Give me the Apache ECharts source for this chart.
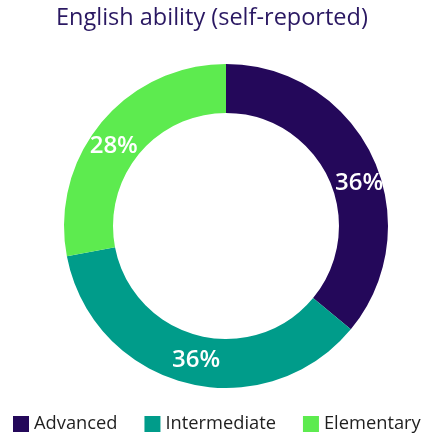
<!DOCTYPE html>
<html>
<head>
<meta charset="utf-8">
<script src="https://cdn.jsdelivr.net/npm/echarts@6/dist/echarts.min.js"></script>
<style>
  html, body { margin: 0; padding: 0; background: #ffffff; }
  #chart { width: 423px; height: 438px; }
</style>
</head>
<body>
<div id="chart"></div>
<script>
// English ability levels, self-reported share (%)
const levels = ['Advanced', 'Intermediate', 'Elementary'];
const shares = [36, 36, 28];
const colors = ['#24085a', '#009c8a', '#5deb4f'];

// small nudges so the percentage labels sit where they read best in the ring
const labelNudge = [[6, 17], [5, -2], [-4, 10]];

const chart = echarts.init(document.getElementById('chart'), null, { renderer: 'canvas' });

chart.setOption({
  animation: false,
  color: colors,
  title: {
    text: 'English ability (self-reported)',
    left: 56,
    top: 6,
    padding: 0,
    textStyle: {
      fontFamily: 'Open Sans',
      fontSize: 23.5,
      fontWeight: 'normal',
      color: '#2a1862'
    }
  },
  legend: {
    data: levels,
    top: 415,
    left: 13,
    width: 420,
    padding: 0,
    itemWidth: 16,
    itemHeight: 16,
    itemGap: 27,
    icon: 'rect',
    textStyle: {
      fontFamily: 'Open Sans',
      fontSize: 18.3,
      color: '#1f1f1f'
    }
  },
  series: [{
    type: 'pie',
    center: [226, 226],
    radius: [113, 162],
    startAngle: 90,
    clockwise: true,
    avoidLabelOverlap: false,
    label: {
      show: true,
      position: 'inside',
      formatter: '{c}%',
      fontFamily: 'Open Sans',
      fontSize: 24,
      fontWeight: 600,
      color: '#ffffff'
    },
    labelLine: { show: false },
    labelLayout: function (p) {
      const n = labelNudge[p.dataIndex];
      return { dx: n[0], dy: n[1] };
    },
    emphasis: { disabled: true },
    itemStyle: { borderWidth: 0 },
    data: levels.map((name, i) => ({ name: name, value: shares[i] }))
  }]
});
</script>
</body>
</html>
